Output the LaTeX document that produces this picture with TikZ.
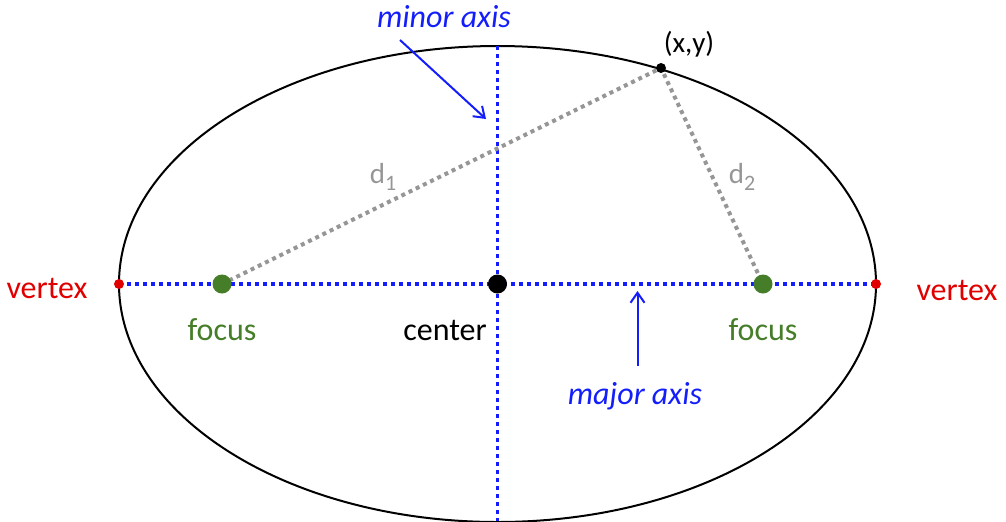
\documentclass[tikz,border=0pt]{standalone}
\usepackage{fontspec}
\setmainfont{Carlito}
\usetikzlibrary{arrows.meta,positioning}

\definecolor{axisblue}{RGB}{20,30,250}
\definecolor{focgreen}{RGB}{70,125,40}
\definecolor{vertred}{RGB}{225,0,0}
\definecolor{distgray}{RGB}{150,150,150}

\newcommand{\distsub}[1]{\raisebox{-3.5pt}{\fontsize{11}{12}\selectfont #1}}

\begin{document}
\begin{tikzpicture}[
  x=0.5pt, y=-0.5pt,
  axisline/.style={axisblue, line width=1.6pt, dash pattern=on 2pt off 2pt},
  distline/.style={distgray, line width=2pt, dash pattern=on 2pt off 2pt},
  dot/.style={circle, inner sep=0pt, minimum size=#1},
  lbl/.style={font=\fontsize{16}{18}\selectfont, inner sep=0pt},
  small/.style={font=\fontsize{14.5}{16}\selectfont, inner sep=0pt},
  arr/.style={-{Straight Barb[length=5pt, width=7pt, line width=1pt]}, axisblue, line width=1pt}
]
\useasboundingbox (0,0) rectangle (1006,521);
\coordinate (c) at (497.5,284);
\coordinate (vl) at (119,284);
\coordinate (vr) at (876,284);
\coordinate (fl) at (222,284);
\coordinate (fr) at (763,284);
\coordinate (p) at (661,68);
\coordinate (mint) at (497.5,46);
\coordinate (minb) at (497.5,521);
\coordinate (mintail) at (400,40);
\coordinate (mintip) at (486,119);
\coordinate (majtail) at (637.5,366);
\coordinate (majtip) at (637.5,291);

\draw[line width=1pt] (c) ellipse [x radius=189.25pt, y radius=119pt];

% axes and distances
\draw[axisline] (vl) -- (vr);
\draw[axisline] (mint) -- (minb);
\draw[distline] (fl) -- (p) -- (fr);

% points
\node[dot=19pt/2, fill=black] (cdot) at (c) {};
\node[dot=19pt/2, fill=focgreen] (fldot) at (fl) {};
\node[dot=19pt/2, fill=focgreen] (frdot) at (fr) {};
\node[dot=10pt/2, fill=vertred] (vldot) at (vl) {};
\node[dot=10pt/2, fill=vertred] (vrdot) at (vr) {};
\node[dot=10pt/2, fill=black] (pdot) at (p) {};

% labels
\node[lbl, text=vertred] (vllbl) at (47,288) {vertex};
\node[lbl, text=vertred] (vrlbl) at (957,290) {vertex};
\node[lbl, text=focgreen] (fllbl) at (222,330) {focus};
\node[lbl, text=focgreen] (frlbl) at (763,330) {focus};
\node[lbl] (clbl) at (445,330) {center};
\node[small] (plbl) at (689,44) {(x,y)};
\node[small, text=distgray] (d1lbl) at (383,177) {d\distsub{1}};
\node[small, text=distgray] (d2lbl) at (742,177) {d\distsub{2}};
\node[lbl, text=axisblue] (minlbl) at (444,17) {\itshape minor axis};
\node[lbl, text=axisblue] (majlbl) at (635,396) {\itshape major axis};

\draw[arr] (mintail) -- (mintip);
\draw[arr] (majtail) -- (majtip);
\end{tikzpicture}
\end{document}
